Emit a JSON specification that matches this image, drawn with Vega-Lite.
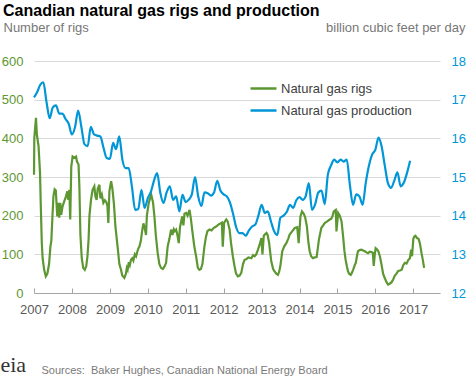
{
  "$schema": "https://vega.github.io/schema/vega-lite/v6.json",
  "width": 406,
  "height": 232,
  "autosize": {"type": "none"},
  "padding": {"left": 34, "top": 61, "right": 28, "bottom": 85},
  "background": "white",
  "config": {
    "font": "Liberation Sans",
    "view": {"stroke": null},
    "axis": {"labelFont": "Liberation Sans", "titleFont": "Liberation Sans", "labelOverlap": false, "labelFlush": false, "labelBound": false}
  },
  "title": {
    "text": "Canadian natural gas rigs and production",
    "anchor": "start",
    "frame": "group",
    "fontSize": 16,
    "fontWeight": "bold",
    "color": "#000000",
    "dx": -31,
    "offset": 2
  },
  "datasets": {
    "rigs": [
      {"d":"2007-01-01","v":306},{"d":"2007-01-04","v":401},{"d":"2007-01-20","v":453},{"d":"2007-01-29","v":409},{"d":"2007-02-14","v":379},{"d":"2007-02-28","v":310},{"d":"2007-03-07","v":230},{"d":"2007-03-17","v":130},{"d":"2007-03-25","v":90},{"d":"2007-04-09","v":60},{"d":"2007-04-25","v":43},{"d":"2007-05-10","v":50},{"d":"2007-05-26","v":75},{"d":"2007-06-08","v":120},{"d":"2007-06-17","v":135},{"d":"2007-06-28","v":200},{"d":"2007-07-07","v":250},{"d":"2007-07-19","v":268},{"d":"2007-07-30","v":265},{"d":"2007-08-13","v":198},{"d":"2007-08-22","v":233},{"d":"2007-09-01","v":195},{"d":"2007-09-11","v":233},{"d":"2007-09-20","v":202},{"d":"2007-10-03","v":224},{"d":"2007-10-19","v":237},{"d":"2007-11-05","v":250},{"d":"2007-11-18","v":263},{"d":"2007-11-27","v":241},{"d":"2007-12-07","v":267},{"d":"2007-12-16","v":190},{"d":"2007-12-26","v":327},
      {"d":"2008-01-08","v":353},{"d":"2008-01-24","v":350},{"d":"2008-02-10","v":353},{"d":"2008-02-19","v":340},{"d":"2008-03-05","v":332},{"d":"2008-03-13","v":276},{"d":"2008-03-23","v":150},{"d":"2008-04-05","v":90},{"d":"2008-04-19","v":65},{"d":"2008-05-04","v":60},{"d":"2008-05-18","v":69},{"d":"2008-05-30","v":95},{"d":"2008-06-10","v":140},{"d":"2008-06-18","v":200},{"d":"2008-07-03","v":241},{"d":"2008-07-18","v":267},{"d":"2008-08-04","v":276},{"d":"2008-08-14","v":250},{"d":"2008-08-26","v":241},{"d":"2008-09-06","v":270},{"d":"2008-09-22","v":280},{"d":"2008-10-01","v":245},{"d":"2008-10-15","v":255},{"d":"2008-10-30","v":233},{"d":"2008-11-14","v":240},{"d":"2008-11-28","v":235},{"d":"2008-12-08","v":225},{"d":"2008-12-17","v":181},{"d":"2008-12-27","v":263},
      {"d":"2009-01-13","v":289},{"d":"2009-01-25","v":270},{"d":"2009-02-09","v":230},{"d":"2009-02-23","v":172},{"d":"2009-03-16","v":120},{"d":"2009-04-02","v":75},{"d":"2009-04-18","v":60},{"d":"2009-04-30","v":45},{"d":"2009-05-20","v":39},{"d":"2009-06-04","v":50},{"d":"2009-06-13","v":65},{"d":"2009-06-21","v":60},{"d":"2009-07-02","v":80},{"d":"2009-07-12","v":72},{"d":"2009-07-23","v":86},{"d":"2009-08-05","v":90},{"d":"2009-08-15","v":84},{"d":"2009-08-29","v":100},{"d":"2009-09-10","v":95},{"d":"2009-09-23","v":108},{"d":"2009-10-02","v":115},{"d":"2009-10-12","v":120},{"d":"2009-10-26","v":135},{"d":"2009-11-10","v":165},{"d":"2009-11-20","v":180},{"d":"2009-11-29","v":172},{"d":"2009-12-15","v":150},{"d":"2009-12-23","v":200},
      {"d":"2010-01-10","v":233},{"d":"2010-02-03","v":254},{"d":"2010-02-20","v":235},{"d":"2010-03-05","v":200},{"d":"2010-03-19","v":150},{"d":"2010-04-06","v":104},{"d":"2010-04-22","v":75},{"d":"2010-05-08","v":65},{"d":"2010-05-26","v":62},{"d":"2010-06-10","v":68},{"d":"2010-06-26","v":78},{"d":"2010-07-11","v":120},{"d":"2010-07-28","v":140},{"d":"2010-08-13","v":164},{"d":"2010-08-26","v":150},{"d":"2010-09-08","v":165},{"d":"2010-09-19","v":160},{"d":"2010-10-01","v":164},{"d":"2010-10-13","v":150},{"d":"2010-10-26","v":129},{"d":"2010-11-07","v":170},{"d":"2010-11-28","v":198},{"d":"2010-12-10","v":175},{"d":"2010-12-20","v":205},
      {"d":"2011-01-06","v":207},{"d":"2011-01-19","v":200},{"d":"2011-02-07","v":215},{"d":"2011-02-21","v":190},{"d":"2011-03-06","v":160},{"d":"2011-03-25","v":120},{"d":"2011-04-11","v":95},{"d":"2011-04-28","v":65},{"d":"2011-05-13","v":60},{"d":"2011-05-27","v":62},{"d":"2011-06-11","v":75},{"d":"2011-06-30","v":120},{"d":"2011-07-15","v":145},{"d":"2011-07-29","v":160},{"d":"2011-08-18","v":164},{"d":"2011-09-07","v":162},{"d":"2011-09-26","v":168},{"d":"2011-10-21","v":172},{"d":"2011-11-04","v":175},{"d":"2011-11-18","v":178},{"d":"2011-12-02","v":180},{"d":"2011-12-15","v":182},{"d":"2011-12-24","v":120},
      {"d":"2012-01-06","v":182},{"d":"2012-01-27","v":190},{"d":"2012-02-09","v":185},{"d":"2012-02-28","v":164},{"d":"2012-03-12","v":130},{"d":"2012-03-30","v":95},{"d":"2012-04-15","v":70},{"d":"2012-04-30","v":50},{"d":"2012-05-17","v":43},{"d":"2012-06-03","v":45},{"d":"2012-06-19","v":52},{"d":"2012-07-06","v":75},{"d":"2012-07-21","v":86},{"d":"2012-08-09","v":88},{"d":"2012-08-28","v":92},{"d":"2012-09-24","v":90},{"d":"2012-10-11","v":98},{"d":"2012-10-26","v":95},{"d":"2012-11-10","v":100},{"d":"2012-11-27","v":112},{"d":"2012-12-13","v":125},{"d":"2012-12-30","v":142},
      {"d":"2013-01-09","v":100},{"d":"2013-01-22","v":148},{"d":"2013-02-01","v":151},{"d":"2013-02-17","v":155},{"d":"2013-02-28","v":150},{"d":"2013-03-14","v":130},{"d":"2013-04-04","v":82},{"d":"2013-04-22","v":62},{"d":"2013-05-06","v":56},{"d":"2013-05-22","v":50},{"d":"2013-06-07","v":47},{"d":"2013-06-19","v":55},{"d":"2013-06-30","v":69},{"d":"2013-07-19","v":108},{"d":"2013-08-06","v":120},{"d":"2013-08-27","v":129},{"d":"2013-09-14","v":140},{"d":"2013-09-28","v":151},{"d":"2013-10-18","v":158},{"d":"2013-11-16","v":168},{"d":"2013-12-10","v":170},{"d":"2013-12-24","v":129},
      {"d":"2014-01-10","v":198},{"d":"2014-01-25","v":211},{"d":"2014-02-11","v":205},{"d":"2014-02-25","v":195},{"d":"2014-03-13","v":172},{"d":"2014-03-28","v":130},{"d":"2014-04-09","v":108},{"d":"2014-04-23","v":95},{"d":"2014-05-10","v":90},{"d":"2014-05-27","v":92},{"d":"2014-06-15","v":93},{"d":"2014-07-07","v":138},{"d":"2014-07-30","v":168},{"d":"2014-08-17","v":175},{"d":"2014-09-01","v":181},{"d":"2014-09-25","v":185},{"d":"2014-10-19","v":190},{"d":"2014-11-03","v":192},{"d":"2014-11-14","v":198},{"d":"2014-11-27","v":211},{"d":"2014-12-16","v":215},{"d":"2014-12-23","v":159},
      {"d":"2015-01-08","v":207},{"d":"2015-01-24","v":200},{"d":"2015-02-10","v":185},{"d":"2015-02-25","v":146},{"d":"2015-03-09","v":110},{"d":"2015-03-21","v":86},{"d":"2015-04-03","v":68},{"d":"2015-04-13","v":56},{"d":"2015-04-24","v":50},{"d":"2015-05-09","v":47},{"d":"2015-05-20","v":52},{"d":"2015-06-01","v":60},{"d":"2015-06-17","v":72},{"d":"2015-06-27","v":78},{"d":"2015-07-08","v":95},{"d":"2015-07-18","v":108},{"d":"2015-08-04","v":111},{"d":"2015-08-20","v":112},{"d":"2015-09-06","v":110},{"d":"2015-09-22","v":108},{"d":"2015-10-08","v":105},{"d":"2015-10-23","v":103},{"d":"2015-11-09","v":107},{"d":"2015-11-25","v":106},{"d":"2015-12-08","v":104},{"d":"2015-12-17","v":70},{"d":"2015-12-27","v":100},
      {"d":"2016-01-04","v":116},{"d":"2016-01-16","v":113},{"d":"2016-01-30","v":108},{"d":"2016-02-14","v":95},{"d":"2016-03-01","v":73},{"d":"2016-03-16","v":50},{"d":"2016-04-02","v":38},{"d":"2016-04-18","v":28},{"d":"2016-05-03","v":22},{"d":"2016-05-19","v":24},{"d":"2016-06-06","v":28},{"d":"2016-06-21","v":35},{"d":"2016-07-07","v":45},{"d":"2016-07-23","v":50},{"d":"2016-08-08","v":57},{"d":"2016-08-25","v":58},{"d":"2016-09-11","v":60},{"d":"2016-09-26","v":72},{"d":"2016-10-12","v":78},{"d":"2016-10-28","v":76},{"d":"2016-11-13","v":85},{"d":"2016-11-29","v":90},{"d":"2016-12-11","v":112},{"d":"2016-12-20","v":95},
      {"d":"2017-01-01","v":140},{"d":"2017-01-11","v":146},{"d":"2017-01-22","v":148},{"d":"2017-02-06","v":142},{"d":"2017-02-20","v":140},{"d":"2017-03-05","v":129},{"d":"2017-03-21","v":103},{"d":"2017-04-03","v":85},{"d":"2017-04-15","v":65}
    ],
    "prod": [
      {"d":"2007-01-01","v":17.06},{"d":"2007-02-01","v":17.2},{"d":"2007-03-01","v":17.38},{"d":"2007-04-01","v":17.45},{"d":"2007-05-01","v":16.95},{"d":"2007-06-01","v":16.52},{"d":"2007-07-01","v":16.8},{"d":"2007-08-01","v":16.85},{"d":"2007-09-01","v":16.64},{"d":"2007-10-01","v":16.64},{"d":"2007-11-01","v":16.5},{"d":"2007-12-01","v":16.38},
      {"d":"2008-01-01","v":16.1},{"d":"2008-02-01","v":16.3},{"d":"2008-03-01","v":16.72},{"d":"2008-04-01","v":16.3},{"d":"2008-05-01","v":15.85},{"d":"2008-06-01","v":15.8},{"d":"2008-07-01","v":16.3},{"d":"2008-08-01","v":16.1},{"d":"2008-09-01","v":16.07},{"d":"2008-10-01","v":16.05},{"d":"2008-11-01","v":15.75},{"d":"2008-12-01","v":15.49},
      {"d":"2009-01-01","v":15.47},{"d":"2009-02-01","v":15.88},{"d":"2009-03-01","v":15.72},{"d":"2009-04-01","v":16.05},{"d":"2009-05-01","v":15.45},{"d":"2009-06-01","v":15.23},{"d":"2009-07-01","v":15.23},{"d":"2009-08-01","v":14.75},{"d":"2009-09-01","v":14.15},{"d":"2009-10-01","v":14.17},{"d":"2009-11-01","v":14.67},{"d":"2009-12-01","v":14.2},
      {"d":"2010-01-01","v":14.45},{"d":"2010-02-01","v":14.63},{"d":"2010-03-01","v":14.9},{"d":"2010-04-01","v":15.1},{"d":"2010-05-01","v":14.6},{"d":"2010-06-01","v":14.33},{"d":"2010-07-01","v":14.6},{"d":"2010-08-01","v":14.76},{"d":"2010-09-01","v":14.41},{"d":"2010-10-01","v":14.5},{"d":"2010-11-01","v":14.11},{"d":"2010-12-01","v":14.54},
      {"d":"2011-01-01","v":14.35},{"d":"2011-02-01","v":14.42},{"d":"2011-03-01","v":14.55},{"d":"2011-04-01","v":15.0},{"d":"2011-05-01","v":14.5},{"d":"2011-06-01","v":14.25},{"d":"2011-07-01","v":14.6},{"d":"2011-08-01","v":14.58},{"d":"2011-09-01","v":14.52},{"d":"2011-10-01","v":14.6},{"d":"2011-11-01","v":14.9},{"d":"2011-12-01","v":14.65},
      {"d":"2012-01-01","v":14.55},{"d":"2012-02-01","v":14.5},{"d":"2012-03-01","v":14.35},{"d":"2012-04-01","v":14.05},{"d":"2012-05-01","v":13.7},{"d":"2012-06-01","v":13.55},{"d":"2012-07-01","v":13.55},{"d":"2012-08-01","v":13.48},{"d":"2012-09-01","v":13.62},{"d":"2012-10-01","v":13.72},{"d":"2012-11-01","v":13.77},{"d":"2012-12-01","v":14.0},
      {"d":"2013-01-01","v":14.28},{"d":"2013-02-01","v":14.07},{"d":"2013-03-01","v":14.11},{"d":"2013-04-01","v":13.85},{"d":"2013-05-01","v":13.6},{"d":"2013-06-01","v":13.5},{"d":"2013-07-01","v":13.95},{"d":"2013-08-01","v":14.0},{"d":"2013-09-01","v":14.1},{"d":"2013-10-01","v":14.28},{"d":"2013-11-01","v":14.2},{"d":"2013-12-01","v":14.4},
      {"d":"2014-01-01","v":14.48},{"d":"2014-02-01","v":14.41},{"d":"2014-03-01","v":14.5},{"d":"2014-04-01","v":14.84},{"d":"2014-05-01","v":14.15},{"d":"2014-06-01","v":14.3},{"d":"2014-07-01","v":14.6},{"d":"2014-08-01","v":14.65},{"d":"2014-09-01","v":14.3},{"d":"2014-10-01","v":15.06},{"d":"2014-11-01","v":15.3},{"d":"2014-12-01","v":15.45},
      {"d":"2015-01-01","v":15.38},{"d":"2015-02-01","v":15.45},{"d":"2015-03-01","v":15.4},{"d":"2015-04-01","v":15.45},{"d":"2015-05-01","v":14.8},{"d":"2015-06-01","v":14.28},{"d":"2015-07-01","v":14.55},{"d":"2015-08-01","v":14.5},{"d":"2015-09-01","v":14.28},{"d":"2015-10-01","v":14.85},{"d":"2015-11-01","v":15.3},{"d":"2015-12-01","v":15.58},
      {"d":"2016-01-01","v":15.7},{"d":"2016-02-01","v":16.02},{"d":"2016-03-01","v":15.8},{"d":"2016-04-01","v":15.3},{"d":"2016-05-01","v":14.85},{"d":"2016-06-01","v":14.72},{"d":"2016-07-01","v":14.9},{"d":"2016-08-01","v":15.12},{"d":"2016-09-01","v":14.76},{"d":"2016-10-01","v":14.85},{"d":"2016-11-01","v":15.1},{"d":"2016-12-01","v":15.42}
    ]
  },
  "layer": [
    {
      "data": {"name": "rigs"},
      "mark": {"type": "line", "strokeWidth": 2.2},
      "encoding": {
        "x": {
          "field": "d", "type": "temporal",
          "scale": {"type": "utc", "domain": [{"year": 2007, "month": 1, "date": 1, "utc": true}, {"year": 2017, "month": 9, "date": 15, "utc": true}]},
          "axis": {
            "values": [{"year": 2007, "utc": true}, {"year": 2008, "utc": true}, {"year": 2009, "utc": true}, {"year": 2010, "utc": true}, {"year": 2011, "utc": true}, {"year": 2012, "utc": true}, {"year": 2013, "utc": true}, {"year": 2014, "utc": true}, {"year": 2015, "utc": true}, {"year": 2016, "utc": true}, {"year": 2017, "utc": true}],
            "format": "%Y",
            "grid": false,
            "domain": true, "domainColor": "#a6a6a6", "domainWidth": 1,
            "ticks": true, "tickColor": "#a6a6a6", "tickSize": -5,
            "labelPadding": 15, "labelFontSize": 13, "labelColor": "#595959",
            "title": "Sources:\u00a0 Baker Hughes, Canadian National Energy Board",
            "titleX": 7, "titleY": 80, "titleAlign": "left", "titleBaseline": "alphabetic", "titleAnchor": null,
            "titleFontSize": 11, "titleFontWeight": "normal", "titleColor": "#7a7a7a"
          }
        },
        "y": {
          "field": "v", "type": "quantitative",
          "scale": {"domain": [0, 600], "nice": false},
          "axis": {
            "values": [0, 100, 200, 300, 400, 500, 600],
            "grid": true, "gridColor": "#d9d9d9", "domain": false, "ticks": false,
            "labelPadding": 11, "labelFontSize": 13, "labelColor": "#5d9732",
            "title": "Number of rigs", "titleAngle": 0, "titleAlign": "left", "titleBaseline": "alphabetic",
            "titleX": -31, "titleY": -30, "titleFontSize": 13, "titleFontWeight": "normal", "titleColor": "#777777"
          }
        },
        "color": {
          "datum": "Natural gas rigs",
          "scale": {"domain": ["Natural gas rigs", "Natural gas production"], "range": ["#5d9732", "#0096d7"]},
          "legend": {
            "orient": "none", "legendX": 215, "legendY": 13, "title": null,
            "symbolType": "stroke", "symbolSize": 676, "symbolStrokeWidth": 2.5,
            "labelFontSize": 13, "labelColor": "#404040", "labelOffset": 3, "rowPadding": -4, "padding": 0
          }
        }
      }
    },
    {
      "data": {"name": "prod"},
      "mark": {"type": "line", "strokeWidth": 2.2, "interpolate": "monotone"},
      "encoding": {
        "x": {"field": "d", "type": "temporal"},
        "y": {
          "field": "v", "type": "quantitative",
          "scale": {"domain": [12, 18], "nice": false, "zero": false},
          "axis": {
            "orient": "right",
            "values": [12, 13, 14, 15, 16, 17, 18],
            "grid": false, "domain": false, "ticks": false,
            "labelPadding": 11, "labelFontSize": 13, "labelColor": "#0096d7",
            "title": "billion cubic feet per day", "titleAngle": 0, "titleAlign": "right", "titleBaseline": "alphabetic",
            "titleX": 25, "titleY": -30, "titleFontSize": 13, "titleFontWeight": "normal", "titleColor": "#777777"
          }
        },
        "color": {"datum": "Natural gas production"}
      }
    },
    {
      "data": {"values": [{"t": "eia"}]},
      "mark": {"type": "text", "font": "Liberation Serif", "fontSize": 22, "color": "#333333", "align": "center", "baseline": "alphabetic"},
      "encoding": {
        "x": {"datum": {"year": 2006, "month": 6, "date": 15, "utc": true}, "type": "temporal"},
        "y": {"datum": -205, "type": "quantitative", "scale": {"domain": [0, 600], "nice": false}, "axis": null},
        "text": {"field": "t"}
      }
    }
  ],
  "resolve": {"scale": {"y": "independent"}}
}
